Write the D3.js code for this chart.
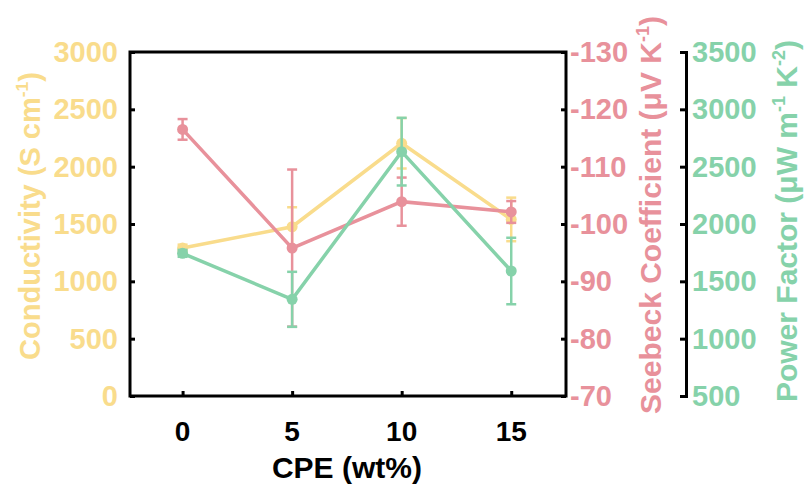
<!DOCTYPE html>
<html lang="en">
<head>
    <meta charset="UTF-8">
    <title>CPE thermoelectric</title>
    <script src="https://d3js.org/d3.v7.min.js"></script>
    <style>
        body { margin: 0; background: #fff; }
        text { font-family: "Liberation Sans", Arial, sans-serif; font-weight: bold; }
    </style>
</head>
<body>
    <svg width="805" height="495"></svg>
    <script>
        // data
        const cpe = [0, 5, 10, 15];
        const conductivity = [1290, 1476, 2204, 1540];
        const conductivityErr = [30, 170, 220, 190];
        const seebeck = [-116.5, -95.8, -103.9, -102.1];
        const seebeckErr = [1.8, 13.7, 4.2, 1.9];
        const powerFactor = [1744, 1343, 2631, 1590];
        const powerFactorErr = [30, 240, 295, 290];

        const condTicks = [0, 500, 1000, 1500, 2000, 2500, 3000];
        const seebeckTicks = [-70, -80, -90, -100, -110, -120, -130];
        const pfTicks = [500, 1000, 1500, 2000, 2500, 3000, 3500];

        const yellow = "#f9dc8c";
        const pink = "#e8919b";
        const green = "#86d2aa";

        const width = 805, height = 495;
        const margin = {top: 52, right: 239, bottom: 99, left: 130};
        const innerW = width - margin.left - margin.right;
        const innerH = height - margin.top - margin.bottom;

        const svg = d3.select("svg");

        const x = d3.scaleLinear().domain([-2.4, 17.5]).range([margin.left, margin.left + innerW]);
        const yCond = d3.scaleLinear().domain([0, 3000]).range([margin.top + innerH, margin.top]);
        const ySee = d3.scaleLinear().domain([-70, -130]).range([margin.top + innerH, margin.top]);
        const yPF = d3.scaleLinear().domain([500, 3500]).range([margin.top + innerH, margin.top]);

        // left axis (conductivity), ticks inward
        const gL = svg.append("g")
            .attr("transform", `translate(${margin.left},0)`)
            .call(d3.axisRight(yCond).tickValues(condTicks).tickSize(5).tickFormat(""));
        gL.select(".domain").remove();
        gL.selectAll("line").attr("stroke", "#000").attr("stroke-width", 3);
        svg.append("g").selectAll("text").data(condTicks).join("text")
            .attr("x", margin.left - 12).attr("y", d => yCond(d) + 10)
            .attr("text-anchor", "end").attr("font-size", 29).attr("fill", yellow)
            .text(d => d);

        // right frame ticks inward
        const gR = svg.append("g")
            .attr("transform", `translate(${margin.left + innerW},0)`)
            .call(d3.axisLeft(ySee).tickValues(seebeckTicks).tickSize(5).tickFormat(""));
        gR.select(".domain").remove();
        gR.selectAll("line").attr("stroke", "#000").attr("stroke-width", 3);
        svg.append("g").selectAll("text").data(seebeckTicks).join("text")
            .attr("x", margin.left + innerW + 4).attr("y", d => ySee(d) + 10)
            .attr("text-anchor", "start").attr("font-size", 29).attr("fill", pink)
            .text(d => String(d));

        // bottom axis
        const gB = svg.append("g")
            .attr("transform", `translate(0,${margin.top + innerH})`)
            .call(d3.axisTop(x).tickValues(cpe).tickSize(5).tickFormat(""));
        gB.select(".domain").remove();
        gB.selectAll("line").attr("stroke", "#000").attr("stroke-width", 3);
        svg.append("g").selectAll("text").data(cpe).join("text")
            .attr("x", d => x(d)).attr("y", margin.top + innerH + 45)
            .attr("text-anchor", "middle").attr("font-size", 28).attr("fill", "#000")
            .text(d => d);

        // frame
        svg.append("rect")
            .attr("x", margin.left).attr("y", margin.top)
            .attr("width", innerW).attr("height", innerH)
            .attr("fill", "none").attr("stroke", "#000").attr("stroke-width", 3);

        // power factor axis (offset), ticks point left
        const pfX = 686;
        const gP = svg.append("g")
            .attr("transform", `translate(${pfX},0)`)
            .call(d3.axisLeft(yPF).tickValues(pfTicks).tickSize(6).tickSizeOuter(6).tickFormat(""));
        gP.select(".domain").attr("stroke", "#000").attr("stroke-width", 3);
        gP.selectAll("line").attr("stroke", "#000").attr("stroke-width", 3);
        svg.append("g").selectAll("text").data(pfTicks).join("text")
            .attr("x", pfX + 6).attr("y", d => yPF(d) + 10)
            .attr("text-anchor", "start").attr("font-size", 29).attr("fill", green)
            .text(d => d);

        // series
        function drawSeries(vals, errs, yScale, color) {
            const pts = cpe.map((c, i) => ({x: c, y: vals[i], e: errs[i]}));
            const g = svg.append("g");
            g.append("path").datum(pts)
                .attr("fill", "none").attr("stroke", color).attr("stroke-width", 3.5)
                .attr("d", d3.line().x(d => x(d.x)).y(d => yScale(d.y)));
            const eb = g.selectAll(".eb").data(pts).join("g");
            eb.append("line")
                .attr("x1", d => x(d.x)).attr("x2", d => x(d.x))
                .attr("y1", d => yScale(d.y - d.e)).attr("y2", d => yScale(d.y + d.e))
                .attr("stroke", color).attr("stroke-width", 2.5);
            [-1, 1].forEach(s => {
                eb.append("line")
                    .attr("x1", d => x(d.x) - 5).attr("x2", d => x(d.x) + 5)
                    .attr("y1", d => yScale(d.y + s * d.e)).attr("y2", d => yScale(d.y + s * d.e))
                    .attr("stroke", color).attr("stroke-width", 2.5);
            });
            g.selectAll("circle").data(pts).join("circle")
                .attr("cx", d => x(d.x)).attr("cy", d => yScale(d.y))
                .attr("r", 5.5).attr("fill", color);
        }
        drawSeries(conductivity, conductivityErr, yCond, yellow);
        drawSeries(seebeck, seebeckErr, ySee, pink);
        drawSeries(powerFactor, powerFactorErr, yPF, green);

        // axis titles: parts alternate normal text / superscript
        function vTitle(cx, cy, size, parts, color) {
            const t = svg.append("text")
                .attr("transform", `translate(${cx},${cy}) rotate(-90)`)
                .attr("text-anchor", "middle").attr("font-size", size).attr("fill", color);
            parts.forEach((p, i) => {
                if (i % 2 === 1) t.append("tspan").attr("font-size", size * 0.6).attr("dy", -12).text(p);
                else t.append("tspan").attr("dy", i === 0 ? 0 : 12).text(p);
            });
        }
        vTitle(40, 216, 29, ["Conductivity (S cm", "-1", ")"], yellow);
        vTitle(661, 215, 30, ["Seebeck Coefficient (\u03bcV K", "-1", ")"], pink);
        vTitle(797, 221, 30, ["Power Factor (\u03bcW m", "-1", " K", "-2", ")"], green);

        svg.append("text")
            .attr("x", x(7.5)).attr("y", 478)
            .attr("text-anchor", "middle").attr("font-size", 30).attr("fill", "#000")
            .text("CPE (wt%)");
    </script>
</body>
</html>
